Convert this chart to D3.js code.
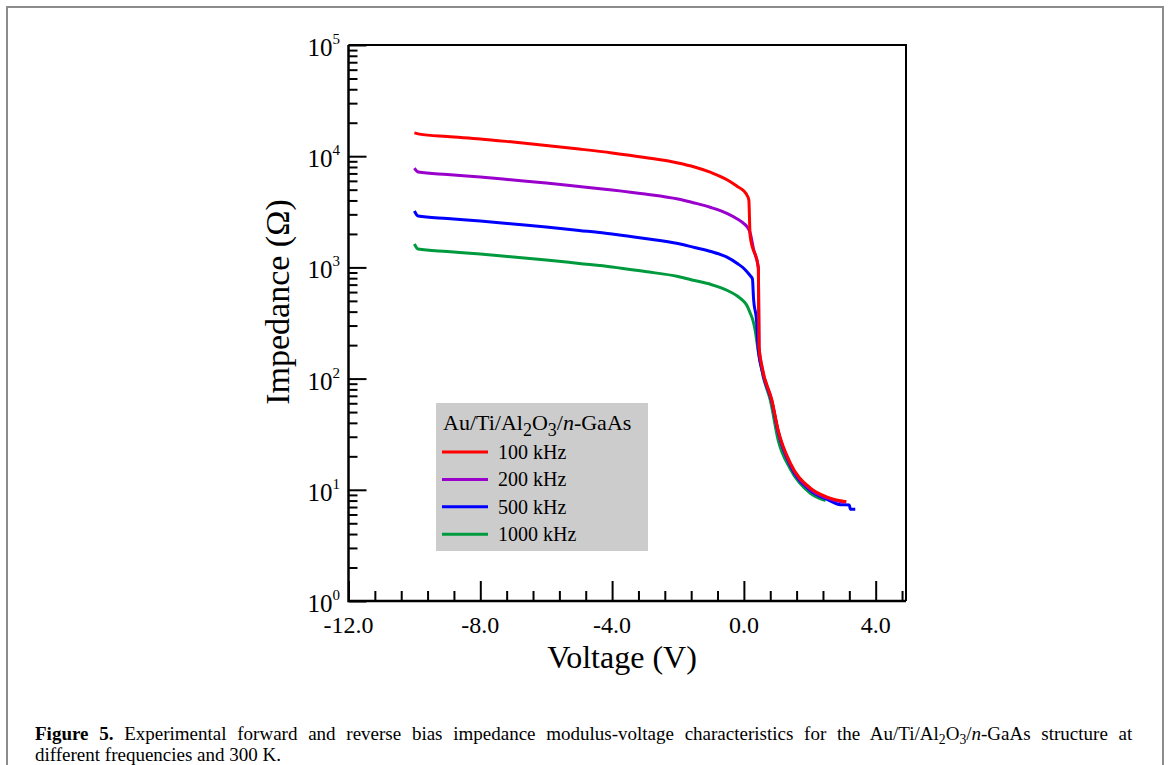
<!DOCTYPE html>
<html>
<head>
<meta charset="utf-8">
<script src="https://cdn.jsdelivr.net/npm/d3@7"></script>
<style>
  body { margin: 0; background: #fff; }
  svg { display: block; font-family: 'Liberation Serif', 'Times New Roman', serif; }
</style>
</head>
<body>
<div id="chart"></div>
<script>
// values (voltage in V, impedance in ohm)
const v100 = [-10, -9.85, -9, -8, -7, -6, -5, -4, -3, -2, -1.5, -1, -0.5, -0.2, 0, 0.1, 0.15, 0.19, 0.44, 0.46, 0.55, 0.85, 1.04, 1.41, 2.01, 2.53, 3.11];
const z100 = [16200, 15800, 15000, 14300, 13400, 12500, 11600, 10700, 9730, 8690, 8000, 7140, 6110, 5340, 4870, 4430, 4040, 1910, 988, 192, 128, 64, 34.5, 17.4, 10.4, 8.6, 7.8];

const v200 = [-10, -9.88, -9, -8, -7, -6, -5, -4, -3, -2, -1.5, -1, -0.5, -0.2, 0, 0.1, 0.19, 0.3, 0.44, 0.46, 0.55, 0.85, 1.04, 1.41, 2.01, 2.53, 3.05];
const z200 = [7830, 7210, 6840, 6500, 6110, 5740, 5340, 4970, 4570, 4120, 3800, 3460, 3050, 2730, 2480, 2310, 2040, 1430, 988, 192, 126, 62.5, 33.5, 16.9, 10.1, 8.4, 7.7];

const v500 = [-10, -9.89, -9, -8, -7, -6, -5, -4, -3, -2, -1.5, -1, -0.5, -0.2, 0, 0.1, 0.2, 0.26, 0.29, 0.39, 0.43, 0.55, 0.85, 1.04, 1.41, 2.01, 2.53, 2.93, 3.2, 3.23, 3.38];
const z500 = [3215, 2900, 2750, 2610, 2455, 2310, 2150, 1995, 1820, 1640, 1510, 1390, 1230, 1085, 978, 909, 837, 787, 542, 316, 192, 119, 61.6, 33, 16.5, 9.9, 8.2, 7.35, 7.3, 6.7, 6.7];

const v1000 = [-10, -9.89, -9, -8, -7, -6, -5, -4, -3, -2, -1.5, -1, -0.5, -0.2, 0, 0.1, 0.19, 0.27, 0.34, 0.43, 0.59, 0.8, 1.04, 1.41, 2.01, 2.48];
const z1000 = [1625, 1465, 1390, 1320, 1240, 1165, 1085, 1010, 918, 829, 762, 702, 620, 553, 494, 450, 389, 337, 274, 181, 103, 64.2, 28, 15.4, 9.36, 7.98];

const seriesNames = ['100 kHz', '200 kHz', '500 kHz', '1000 kHz'];
const seriesColors = ['#ff0000', '#9900cc', '#0000ff', '#009a3e'];

const xMajor = [-12, -8, -4, 0, 4];
const xLabels = ['-12.0', '-8.0', '-4.0', '0.0', '4.0'];
const yExponents = [0, 1, 2, 3, 4, 5];

const width = 1168;
const height = 765;
const box = { left: 348.5, right: 906, top: 45, bottom: 601 };

const svg = d3.select('#chart').append('svg')
  .attr('width', width)
  .attr('height', height);

// outer figure frame
svg.append('rect')
  .attr('x', 7)
  .attr('y', 7)
  .attr('width', 1156)
  .attr('height', 800)
  .attr('fill', 'none')
  .attr('stroke', '#8c8c8c')
  .attr('stroke-width', 2);

const x = d3.scaleLinear().domain([-12, 4.92]).range([box.left, box.right]);
const y = d3.scaleLog().domain([1, 1e5]).range([box.bottom, box.top]);

const g = svg.append('g');

// plot box: top and right edges
g.append('path')
  .attr('d', `M${box.left},${box.top}H${box.right}V${box.bottom}`)
  .attr('fill', 'none')
  .attr('stroke', '#000')
  .attr('stroke-width', 2);

// x axis ticks (inward)
const xMinor = d3.range(-12, 4.9, 0.8).filter(v => !xMajor.some(m => Math.abs(m - v) < 1e-6));
const xAxis = g.append('g')
  .attr('transform', `translate(0,${box.bottom})`);
xAxis.call(d3.axisBottom(x).tickValues(xMajor).tickSize(-20).tickFormat(''));
xAxis.append('g')
  .call(d3.axisBottom(x).tickValues(xMinor).tickSize(-10).tickFormat(''));
xAxis.selectAll('.domain').remove();
xAxis.selectAll('line').attr('stroke', '#000').attr('stroke-width', 2);

// y axis ticks (inward)
const yMinor = [];
yExponents.slice(0, -1).forEach((e) => {
  d3.range(2, 10).forEach(m => yMinor.push(m * 10 ** e));
});
const yAxis = g.append('g')
  .attr('transform', `translate(${box.left},0)`);
yAxis.call(d3.axisLeft(y).tickValues(yExponents.map(e => 10 ** e)).tickSize(-18).tickFormat(''));
yAxis.append('g')
  .call(d3.axisLeft(y).tickValues(yMinor).tickSize(-9).tickFormat(''));
yAxis.selectAll('.domain').remove();
yAxis.selectAll('line').attr('stroke', '#000').attr('stroke-width', 2);

// left and bottom axis lines
g.append('path')
  .attr('d', `M${box.left},${box.top}V${box.bottom}H${box.right}`)
  .attr('fill', 'none')
  .attr('stroke', '#000')
  .attr('stroke-width', 2.5);

// tick labels
g.selectAll('.xlabel')
  .data(xMajor)
  .enter()
  .append('text')
    .attr('class', 'xlabel')
    .attr('x', d => x(d))
    .attr('y', 633)
    .attr('text-anchor', 'middle')
    .attr('font-size', 24)
    .text((d, i) => xLabels[i]);

const ylab = g.selectAll('.ylabel')
  .data(yExponents)
  .enter()
  .append('text')
    .attr('class', 'ylabel')
    .attr('x', 340)
    .attr('y', d => y(10 ** d) + 11)
    .attr('text-anchor', 'end')
    .attr('font-size', 25);
ylab.append('tspan').text('10');
ylab.append('tspan')
  .attr('dy', -12)
  .attr('font-size', 15)
  .text(d => d);

// axis titles
svg.append('text')
  .attr('x', 622)
  .attr('y', 668)
  .attr('text-anchor', 'middle')
  .attr('font-size', 32)
  .text('Voltage (V)');

svg.append('text')
  .attr('transform', 'translate(289,302) rotate(-90)')
  .attr('text-anchor', 'middle')
  .attr('font-size', 34)
  .text('Impedance (Ω)');

// curves
const series = [
  { v: v1000, z: z1000, i: 3 },
  { v: v500, z: z500, i: 2 },
  { v: v200, z: z200, i: 1 },
  { v: v100, z: z100, i: 0 },
];
const line = d3.line()
  .x(d => x(d[0]))
  .y(d => y(d[1]))
  .curve(d3.curveMonotoneX);

g.selectAll('.curve')
  .data(series)
  .enter()
  .append('path')
    .attr('class', 'curve')
    .attr('fill', 'none')
    .attr('stroke', d => seriesColors[d.i])
    .attr('stroke-width', 3)
    .attr('stroke-linejoin', 'round')
    .attr('d', d => line(d.v.map((v, k) => [v, d.z[k]])));

// legend
const legend = svg.append('g')
  .attr('transform', 'translate(436,403)');
legend.append('rect')
  .attr('width', 212)
  .attr('height', 148)
  .attr('fill', '#cccccc');
const ltitle = legend.append('text')
  .attr('x', 7)
  .attr('y', 27)
  .attr('font-size', 22);
ltitle.append('tspan').text('Au/Ti/Al');
ltitle.append('tspan').attr('font-size', 18).attr('dy', 6).text('2');
ltitle.append('tspan').attr('dy', -6).text('O');
ltitle.append('tspan').attr('font-size', 18).attr('dy', 6).text('3');
ltitle.append('tspan').attr('dy', -6).text('/');
ltitle.append('tspan').attr('font-style', 'italic').text('n');
ltitle.append('tspan').text('-GaAs');

const items = legend.selectAll('.item')
  .data(seriesNames)
  .enter()
  .append('g')
    .attr('class', 'item')
    .attr('transform', (d, i) => `translate(0,${49 + i * 27.4})`);
items.append('line')
  .attr('x1', 6)
  .attr('x2', 52)
  .attr('stroke', (d, i) => seriesColors[i])
  .attr('stroke-width', 3);
items.append('text')
  .attr('x', 62)
  .attr('y', 7)
  .attr('font-size', 20)
  .text(d => d);

// caption
const cap1 = svg.append('text')
  .attr('x', 35)
  .attr('y', 740)
  .attr('font-size', 17);
cap1.append('tspan').attr('font-weight', 'bold').text('Figure 5.');
cap1.append('tspan').text(' Experimental forward and reverse bias impedance modulus-voltage characteristics for the Au/Ti/Al');
const sub1 = cap1.append('tspan').attr('dy', 4).text('2');
cap1.append('tspan').attr('dy', -4).text('O');
const sub2 = cap1.append('tspan').attr('dy', 4).text('3');
cap1.append('tspan').attr('dy', -4).text('/');
cap1.append('tspan').attr('font-style', 'italic').text('n');
cap1.append('tspan').text('-GaAs structure at');

const cap2 = svg.append('text')
  .attr('x', 35)
  .attr('y', 761)
  .attr('font-size', 17)
  .text('different frequencies and 300 K.');

// fit the first caption line to the printed width
const target = 1098;
const natural = cap1.node().getBBox().width;
const capSize = Math.min(19, 17 * target / natural);
cap1.attr('font-size', capSize);
cap2.attr('font-size', capSize);
sub1.attr('font-size', capSize * 0.72);
sub2.attr('font-size', capSize * 0.72);
const spaces = cap1.text().split(' ').length - 1;
const rest = target - cap1.node().getBBox().width;
if (rest > 0) cap1.attr('word-spacing', rest / spaces);
</script>
</body>
</html>
